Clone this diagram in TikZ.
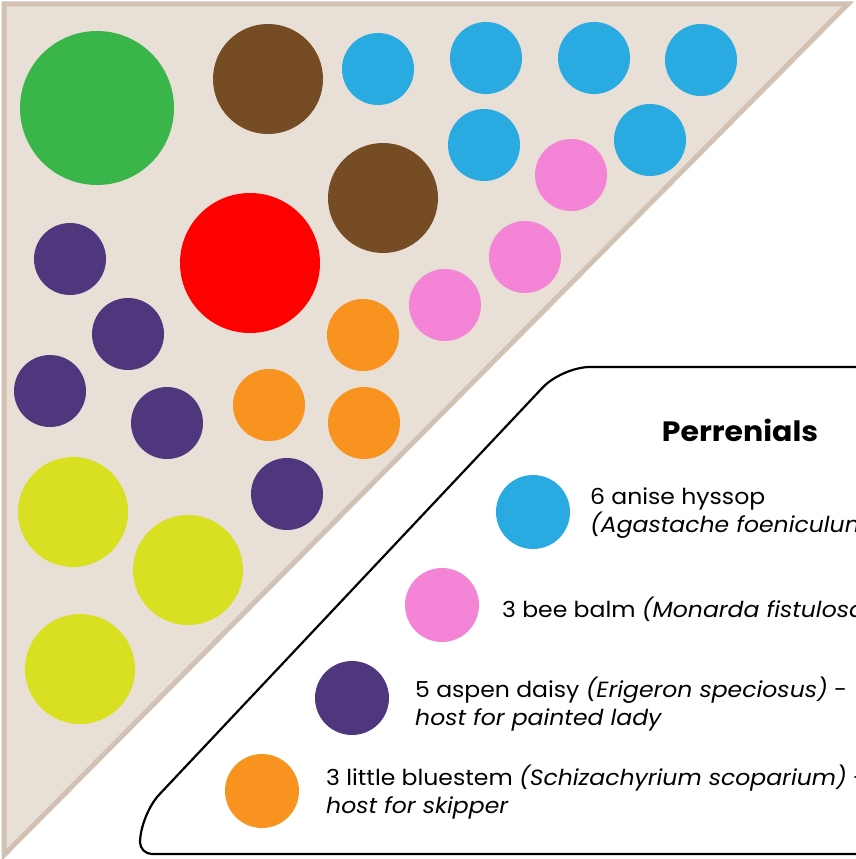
\documentclass[tikz,border=0pt]{standalone}
\usepackage{fontspec}
\setmainfont{Poppins}[FakeStretch=1.07]
\definecolor{tfill}{HTML}{E8DFD6}
\definecolor{tline}{HTML}{D2C2B4}
\definecolor{cgreen}{HTML}{39B54A}
\definecolor{cbrown}{HTML}{754C24}
\definecolor{cred}{HTML}{FF0000}
\definecolor{cblue}{HTML}{29ABE2}
\definecolor{cpink}{HTML}{F484D6}
\definecolor{cpurple}{HTML}{4F377D}
\definecolor{corange}{HTML}{F7931E}
\definecolor{cyellow}{HTML}{D9E021}
\begin{document}
\begin{tikzpicture}[x=1pt,y=-1pt,
  plant/.style={circle,inner sep=0pt,draw=none},
  big/.style={plant,minimum size=110pt},
  small/.style={plant,minimum size=72pt},
  legtext/.style={anchor=base west,inner sep=0pt,font=\fontsize{22}{28}\selectfont,align=left}]
\useasboundingbox (0,0) rectangle (856,859);
\clip (0,0) rectangle (856,859);
% bed
\draw[fill=tfill,draw=tline,line width=5pt,line join=miter] (4,4) -- (848,4) -- (4,855) -- cycle;
% big plants
\node[plant,minimum size=154pt,fill=cgreen] (g1) at (97,108) {};
\node[big,fill=cbrown] (br1) at (268,79) {};
\node[big,fill=cbrown] (br2) at (383,198) {};
\node[plant,minimum size=140pt,fill=cred] (r1) at (250,263) {};
% blue
\node[small,fill=cblue] (b1) at (378,69) {};
\node[small,fill=cblue] (b2) at (486,58) {};
\node[small,fill=cblue] (b3) at (594,58) {};
\node[small,fill=cblue] (b4) at (701,60) {};
\node[small,fill=cblue] (b5) at (484,145) {};
\node[small,fill=cblue] (b6) at (650,140) {};
% pink
\node[small,fill=cpink] (p1) at (571,175) {};
\node[small,fill=cpink] (p2) at (525,257) {};
\node[small,fill=cpink] (p3) at (445,305) {};
% orange
\node[small,fill=corange] (o1) at (363,335) {};
\node[small,fill=corange] (o2) at (269,405) {};
\node[small,fill=corange] (o3) at (364,423) {};
% purple
\node[small,fill=cpurple] (u1) at (70,259) {};
\node[small,fill=cpurple] (u2) at (128,334) {};
\node[small,fill=cpurple] (u3) at (50,391) {};
\node[small,fill=cpurple] (u4) at (167,423) {};
\node[small,fill=cpurple] (u5) at (287,494) {};
% yellow
\node[big,fill=cyellow] (y1) at (73,512) {};
\node[big,fill=cyellow] (y2) at (188,570) {};
\node[big,fill=cyellow] (y3) at (80,669) {};
% legend box
\draw[line width=2.2pt,rounded corners=28pt] (870,367) -- (562,367) -- (140,815) [rounded corners=12pt] -- (140,854) [rounded corners=0pt] -- (870,854);
\node[anchor=base,inner sep=0pt,font=\fontsize{28}{30}\selectfont\bfseries] (title) at (740,441) {Perrenials};
\node[plant,minimum size=74pt,fill=cblue] (lb) at (533,512) {};
\node[plant,minimum size=74pt,fill=cpink] (lp) at (442,605) {};
\node[plant,minimum size=74pt,fill=cpurple] (lu) at (352,698) {};
\node[plant,minimum size=74pt,fill=corange] (lo) at (262,791) {};
\node[legtext] (tb) at (590,532) {6 anise hyssop\\\textit{(Agastache foeniculum)}};
\node[legtext] (tp) at (502,617) {3 bee balm \textit{(Monarda fistulosa)}};
\node[legtext] (tu) at (415,725) {5 aspen daisy \textit{(Erigeron speciosus)} -\\\textit{host for painted lady}};
\node[legtext] (to) at (326,813) {3 little bluestem \textit{(Schizachyrium scoparium)} -\\\textit{host for skipper}};
\end{tikzpicture}
\end{document}
